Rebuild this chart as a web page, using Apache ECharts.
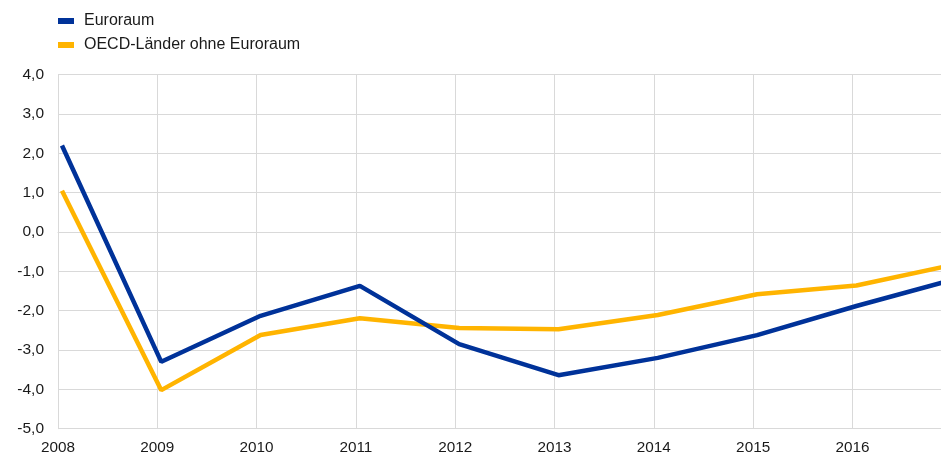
<!DOCTYPE html>
<html>
<head>
<meta charset="utf-8">
<script src="https://cdn.jsdelivr.net/npm/echarts@6/dist/echarts.min.js"></script>
<style>
  html, body { margin: 0; padding: 0; background: #fff; overflow: hidden; }
  /* slightly wider than the window so the closing split line falls off-canvas */
  #chart { width: 944px; height: 455px; }
</style>
</head>
<body>
<div id="chart"></div>
<script>
// Annual observations (reported mid-January of each year)
const years = [2008, 2009, 2010, 2011, 2012, 2013, 2014, 2015, 2016, 2017];
const euroArea = [2.2, -3.3, -2.13, -1.37, -2.85, -3.64, -3.2, -2.62, -1.88, -1.19];
const oecdExEuro = [1.05, -4.02, -2.62, -2.19, -2.44, -2.47, -2.11, -1.58, -1.36, -0.82];
const seriesNames = ['Euroraum', 'OECD-Länder ohne Euroraum'];
const yTicks = [-5, -4, -3, -2, -1, 0, 1, 2, 3, 4];

const obsOffset = 0.04; // mid-January
const toPairs = vals => vals.map((v, i) => [years[i] + obsOffset, v]);

const chart = echarts.init(document.getElementById('chart'));
const font = 'Liberation Sans, Arial, sans-serif';

chart.setOption({
  animation: false,
  textStyle: { fontFamily: font },
  legend: {
    orient: 'vertical',
    left: 58,
    top: 13,
    padding: 0,
    itemWidth: 16,
    itemHeight: 6,
    itemGap: 8,
    icon: 'rect',
    textStyle: { fontSize: 16, lineHeight: 16, color: '#1a1a1a', fontFamily: font, padding: [0, 0, 0, 5] },
    data: seriesNames
  },
  grid: { left: 58, right: 0, top: 74.7, bottom: 26.3, containLabel: false, outerBoundsMode: 'none' },
  xAxis: {
    type: 'value',
    min: 2008,
    max: 2016.922,
    interval: 1,
    axisLine: { show: true, lineStyle: { color: '#d9d9d9', width: 1 } },
    axisTick: { show: false },
    splitLine: { show: true, lineStyle: { color: '#d9d9d9', width: 1 } },
    axisLabel: {
      color: '#1a1a1a', fontSize: 15.3, fontFamily: font, margin: 12,
      showMaxLabel: false,
      formatter: v => Number.isInteger(v) ? String(v) : ''
    }
  },
  yAxis: {
    type: 'value',
    min: yTicks[0],
    max: yTicks[yTicks.length - 1],
    interval: 1,
    axisLine: { show: true, lineStyle: { color: '#d9d9d9', width: 1 } },
    axisTick: { show: false },
    splitLine: { show: true, lineStyle: { color: '#d9d9d9', width: 1 } },
    axisLabel: {
      color: '#1a1a1a', fontSize: 15.5, fontFamily: font, margin: 14,
      formatter: v => v.toFixed(1).replace('.', ',')
    }
  },
  series: [
    {
      name: seriesNames[1],
      type: 'line',
      data: toPairs(oecdExEuro),
      showSymbol: false,
      clip: true,
      z: 2,
      itemStyle: { color: '#ffb400' },
      lineStyle: { color: '#ffb400', width: 4.5 }
    },
    {
      name: seriesNames[0],
      type: 'line',
      data: toPairs(euroArea),
      showSymbol: false,
      clip: true,
      z: 3,
      itemStyle: { color: '#003299' },
      lineStyle: { color: '#003299', width: 4.5 }
    }
  ]
});
</script>
</body>
</html>
